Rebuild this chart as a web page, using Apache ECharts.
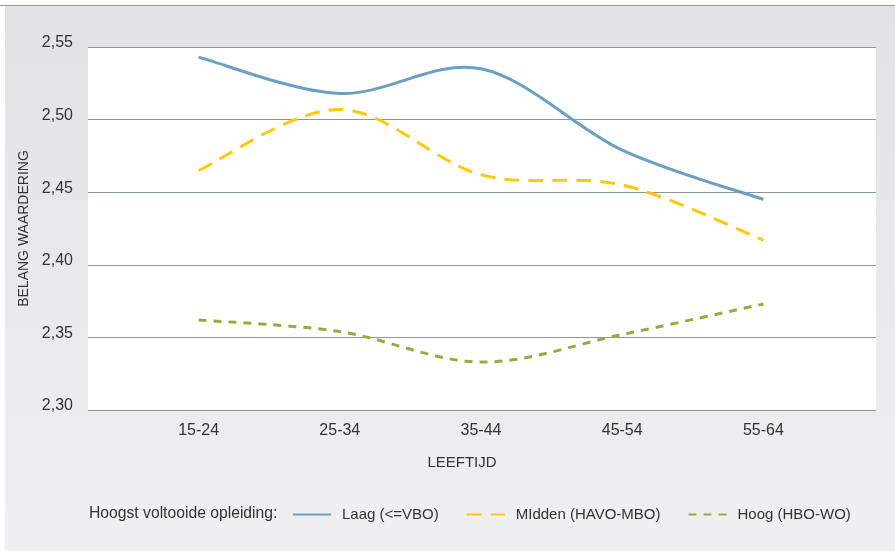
<!DOCTYPE html>
<html>
<head>
<meta charset="utf-8">
<script src="https://cdn.jsdelivr.net/npm/echarts@6/dist/echarts.min.js"></script>
<style>
  html, body { margin: 0; padding: 0; background: #ffffff; }
  #chart { width: 895px; height: 551px; }
</style>
</head>
<body>
<div id="chart"></div>
<script>
// Leeftijdsgroepen en waarderingen per opleidingsniveau
var categories = ['15-24', '25-34', '35-44', '45-54', '55-64'];
var laag   = [2.543, 2.518, 2.535, 2.479, 2.445];
var midden = [2.465, 2.507, 2.462, 2.455, 2.417];
var hoog   = [2.362, 2.354, 2.333, 2.352, 2.373];
var seriesNames = ['Laag (<=VBO)', 'MIdden (HAVO-MBO)', 'Hoog (HBO-WO)'];
var yTicks = { min: 2.30, max: 2.55, step: 0.05 };

var FONT = '"Liberation Sans", Arial, sans-serif';
var TEXT = '#333333';

var styles = [
  { color: '#6aa0c2', width: 3, dash: null },
  { color: '#ffc80a', width: 3, dash: [15, 9] },
  { color: '#93ad3c', width: 3, dash: [8, 7] }
];

// Cardinal (Catmull-Rom) spline through the projected points
function splinePath(pts) {
  var d = 'M' + pts[0][0] + ' ' + pts[0][1];
  for (var i = 0; i < pts.length - 1; i++) {
    var p0 = pts[i - 1] || pts[i];
    var p1 = pts[i];
    var p2 = pts[i + 1];
    var p3 = pts[i + 2] || pts[i + 1];
    var c1x = p1[0] + (p2[0] - p0[0]) / 6, c1y = p1[1] + (p2[1] - p0[1]) / 6;
    var c2x = p2[0] - (p3[0] - p1[0]) / 6, c2y = p2[1] - (p3[1] - p1[1]) / 6;
    d += ' C' + c1x + ' ' + c1y + ' ' + c2x + ' ' + c2y + ' ' + p2[0] + ' ' + p2[1];
  }
  return d;
}

function curveSeries(values, style) {
  return {
    type: 'custom', xAxisIndex: 1, yAxisIndex: 1,
    silent: true,
    data: [[0, values[0]]],
    renderItem: function (params, api) {
      var pts = values.map(function (v, i) { return api.coord([i, v]); });
      return {
        type: 'path',
        shape: { pathData: splinePath(pts) },
        style: {
          fill: null, stroke: style.color, lineWidth: style.width,
          lineDash: style.dash, lineCap: 'butt', lineJoin: 'round'
        }
      };
    }
  };
}

// Empty line series carry the legend entries with the matching line styles
function legendSeries(name, style) {
  return {
    name: name, type: 'line', xAxisIndex: 1, yAxisIndex: 1,
    data: [], symbol: 'none',
    lineStyle: { color: style.color, width: style.width, type: style.dash || 'solid' },
    itemStyle: { color: style.color }
  };
}

var chart = echarts.init(document.getElementById('chart'), null, { renderer: 'canvas' });

chart.setOption({
  animation: false,
  backgroundColor: '#ffffff',
  graphic: [
    {
      type: 'rect', z: -10, silent: true,
      shape: { x: 5, y: 6, width: 890, height: 545 },
      style: {
        fill: new echarts.graphic.LinearGradient(0, 0, 0, 1, [
          { offset: 0, color: '#e1e2e4' },
          { offset: 1, color: '#f0f0f2' }
        ])
      }
    },
    {
      type: 'rect', z: -9, silent: true,
      shape: { x: 0, y: 5, width: 895, height: 1 },
      style: { fill: '#9aa54f' }
    }
  ],
  title: {
    text: 'Hoogst voltooide opleiding:',
    left: 89, top: 506,
    padding: 0,
    textStyle: { fontFamily: FONT, fontSize: 15.7, fontWeight: 'normal', color: TEXT }
  },
  legend: {
    left: 292, top: 507,
    padding: 0,
    itemWidth: 38, itemHeight: 14,
    itemGap: 27,
    data: seriesNames,
    itemStyle: { color: 'rgba(0,0,0,0)', borderColor: 'rgba(0,0,0,0)', borderWidth: 0, opacity: 0 },
    textStyle: { fontFamily: FONT, fontSize: 15, color: TEXT, padding: [0, 0, 0, 6] }
  },
  grid: [
    { left: 88, right: 19, top: 47, bottom: 141, show: true, backgroundColor: '#ffffff', borderWidth: 0 },
    { left: 128, right: 61, top: 47, bottom: 141 }
  ],
  xAxis: [
    { gridIndex: 0, type: 'value', min: 0, max: 1, show: false },
    {
      gridIndex: 1, type: 'category', data: categories, boundaryGap: true,
      axisLine: { show: false }, axisTick: { show: false },
      axisLabel: { fontFamily: FONT, fontSize: 16, color: TEXT, margin: 13 },
      name: 'LEEFTIJD', nameLocation: 'middle', nameGap: 45,
      nameTextStyle: { fontFamily: FONT, fontSize: 15, color: TEXT, padding: [0, 38, 0, 0] }
    }
  ],
  yAxis: [
    {
      gridIndex: 0, type: 'value', min: yTicks.min, max: yTicks.max, interval: yTicks.step,
      axisLine: { show: false }, axisTick: { show: false },
      splitLine: { show: true, lineStyle: { color: '#8c959a', width: 1 } },
      axisLabel: {
        fontFamily: FONT, fontSize: 16, color: TEXT, margin: 15,
        verticalAlign: 'bottom', lineHeight: 8,
        formatter: function (v) { return v.toFixed(2).replace('.', ','); }
      },
      name: 'BELANG WAARDERING', nameLocation: 'middle', nameGap: 57, nameRotate: 90,
      nameTextStyle: { fontFamily: FONT, fontSize: 14, color: TEXT }
    },
    { gridIndex: 1, type: 'value', min: yTicks.min, max: yTicks.max, show: false }
  ],
  series: [
    legendSeries(seriesNames[0], styles[0]),
    legendSeries(seriesNames[1], styles[1]),
    legendSeries(seriesNames[2], styles[2]),
    curveSeries(laag, styles[0]),
    curveSeries(midden, styles[1]),
    curveSeries(hoog, styles[2])
  ]
});
</script>
</body>
</html>
